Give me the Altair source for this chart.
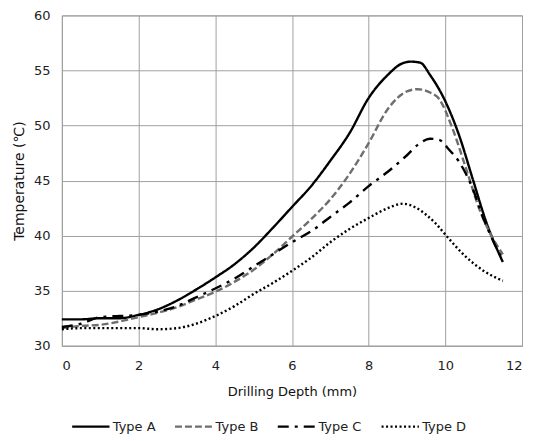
import altair as alt
import pandas as pd

series_names = ["Type A", "Type B", "Type C", "Type D"]

a_x = [0, 0.5, 1, 1.5, 2, 2.5, 3, 3.5, 4, 4.5, 5, 5.5, 6, 6.5, 7, 7.5, 8, 8.5, 8.85, 9.1, 9.35, 9.6, 10, 10.36, 10.71, 11.06, 11.5]
a_y = [32.4, 32.4, 32.5, 32.5, 32.8, 33.3, 34.1, 35.1, 36.2, 37.4, 38.9, 40.7, 42.6, 44.5, 46.8, 49.3, 52.5, 54.6, 55.6, 55.8, 55.7, 54.6, 52.2, 49.1, 45.2, 41.3, 37.6]

b_x = [0, 0.5, 1, 1.5, 2, 2.5, 3, 3.5, 4, 4.5, 5, 5.5, 6, 6.5, 7, 7.5, 8, 8.5, 9, 9.28, 9.6, 9.84, 10.19, 10.54, 10.9, 11.2, 11.5]
b_y = [31.6, 31.8, 31.9, 32.2, 32.6, 33.0, 33.5, 34.2, 34.9, 35.8, 36.9, 38.3, 39.9, 41.5, 43.3, 45.6, 48.4, 51.5, 53.1, 53.3, 53.0, 52.4, 49.7, 46.1, 42.3, 40.0, 38.3]

c_x = [0, 0.5, 1, 1.5, 2, 2.5, 3, 3.5, 4, 4.5, 5, 5.5, 6, 6.5, 7, 7.5, 8, 8.5, 9, 9.3, 9.6, 9.84, 10.1, 10.36, 10.71, 11, 11.25, 11.5]
c_y = [31.7, 32.0, 32.6, 32.7, 32.8, 33.1, 33.6, 34.4, 35.2, 36.1, 37.2, 38.3, 39.4, 40.4, 41.7, 43.0, 44.5, 45.8, 47.3, 48.3, 48.8, 48.7, 47.8, 46.7, 44.3, 41.5, 39.5, 37.8]

d_x = [0, 0.5, 1, 1.5, 2, 2.5, 3, 3.5, 4, 4.5, 5, 5.5, 6, 6.5, 7, 7.5, 8, 8.5, 8.9, 9.2, 9.5, 9.75, 10, 10.5, 11, 11.5]
d_y = [31.5, 31.6, 31.6, 31.6, 31.6, 31.5, 31.6, 32.0, 32.7, 33.6, 34.7, 35.7, 36.8, 38.0, 39.4, 40.6, 41.6, 42.5, 42.9, 42.6, 41.9, 41.1, 40.1, 38.2, 36.8, 35.9]

rows = []
for name, xs, ys in zip(series_names, [a_x, b_x, c_x, d_x], [a_y, b_y, c_y, d_y]):
    for i, (x, y) in enumerate(zip(xs, ys)):
        rows.append({"series": name, "x": x, "y": y, "order": i})
df = pd.DataFrame(rows)

font = "DejaVu Sans"

legend_opts = dict(title=None, orient="none", legendX=9, legendY=392,
                   direction="horizontal", columns=4, symbolType="stroke",
                   symbolSize=1400, symbolStrokeWidth=2.4, labelOffset=2,
                   columnPadding=14, labelFontSize=13)

chart = alt.Chart(df).mark_line(strokeWidth=2.4, interpolate="monotone").encode(
    x=alt.X("x:Q", title="Drilling Depth (mm)",
            scale=alt.Scale(domain=[0, 12], nice=False),
            axis=alt.Axis(values=[0, 2, 4, 6, 8, 10, 12], tickSize=0, labelPadding=14,
                          titlePadding=13)),
    y=alt.Y("y:Q", title="Temperature (℃)",
            scale=alt.Scale(domain=[30, 60], nice=False, zero=False),
            axis=alt.Axis(values=[30, 35, 40, 45, 50, 55, 60], tickSize=0, labelPadding=12,
                          titlePadding=7, titleFontSize=14)),
    order="order:Q",
    color=alt.Color("series:N", scale=alt.Scale(domain=series_names,
                    range=["#000000", "#6e6e6e", "#000000", "#000000"]),
                    legend=alt.Legend(**legend_opts)),
    strokeDash=alt.StrokeDash("series:N", scale=alt.Scale(domain=series_names,
                              range=[[1, 0], [7, 3], [11, 6, 3, 6], [2, 2.5]]),
                              legend=alt.Legend(**legend_opts)),
).properties(
    width=461, height=331,
    autosize=alt.AutoSizeParams(type="none"),
    padding={"left": 54, "top": 7, "right": 6, "bottom": 95},
).configure_view(
    stroke="#a0a0a0", strokeWidth=1
).configure_axis(
    gridColor="#a0a0a0", gridWidth=1, domainColor="#a0a0a0",
    labelFont=font, titleFont=font, labelFontSize=13, titleFontSize=13,
    labelColor="#222222", titleColor="#111111", titleFontWeight="normal"
).configure_legend(
    labelFont=font, labelColor="#222222"
)

chart.save("out.html", embed_options={"renderer": "svg", "actions": False})
